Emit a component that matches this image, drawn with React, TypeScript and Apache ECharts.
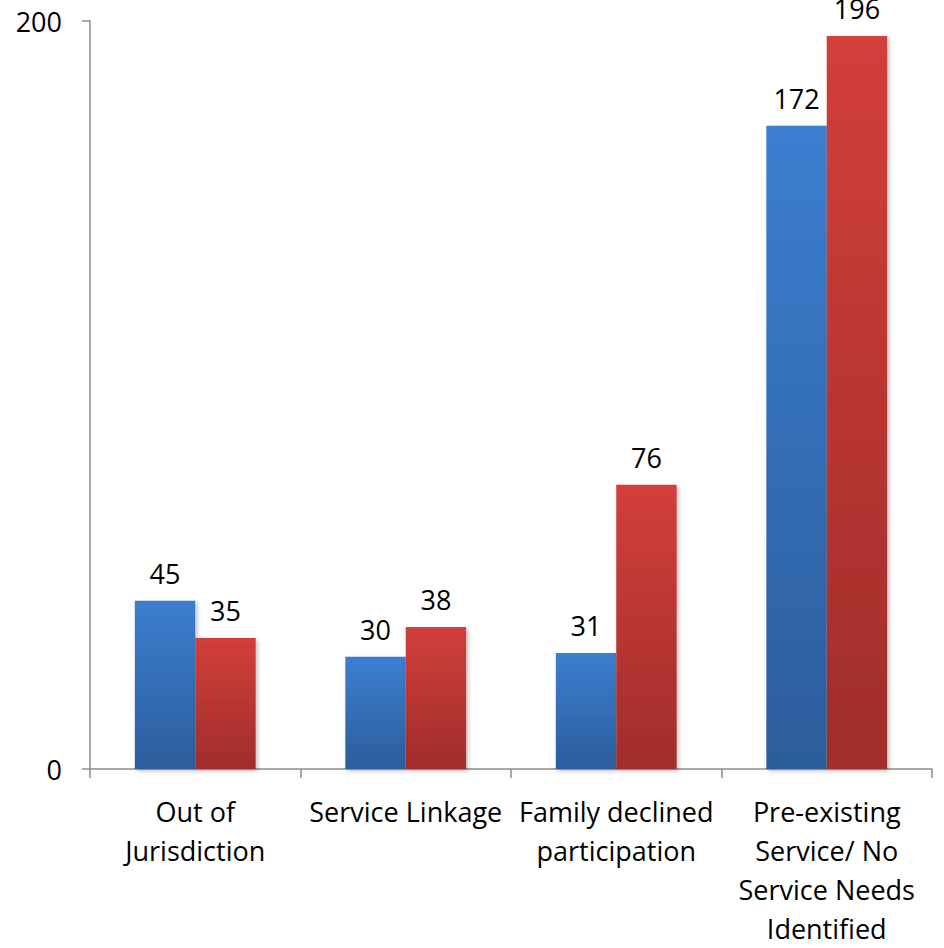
import React, { useEffect, useRef } from "react";
import * as echarts from "echarts";

const categories = [
  "Out of\nJurisdiction",
  "Service Linkage",
  "Family declined\nparticipation",
  "Pre-existing\nService/ No\nService Needs\nIdentified",
];
const seriesA = [45, 30, 31, 172];
const seriesB = [35, 38, 76, 196];
const yTicks = { min: 0, max: 200, interval: 200 };

const FONT = "'Open Sans', 'Noto Sans', sans-serif";

function grad(top: string, bottom: string) {
  return new echarts.graphic.LinearGradient(0, 0, 0, 1, [
    { offset: 0, color: top },
    { offset: 1, color: bottom },
  ]);
}

export default function App() {
  const ref = useRef<HTMLDivElement>(null);

  useEffect(() => {
    if (!ref.current) return;
    const chart = echarts.init(ref.current, null, { renderer: "svg" });
    const axisColor = "#8c8c8c";
    const labelStyle = {
      show: true,
      position: "top" as const,
      distance: 14,
      color: "#000",
      fontSize: 27,
      fontFamily: FONT,
    };
    const shadow = {
      shadowColor: "rgba(0,0,0,0.25)",
      shadowBlur: 4,
      shadowOffsetX: 2,
      shadowOffsetY: 2,
    };
    chart.setOption({
      animation: false,
      backgroundColor: "#fff",
      grid: { left: 90, right: 12, top: 21, bottom: 173, containLabel: false },
      xAxis: {
        type: "category",
        data: categories,
        axisLine: { show: true, lineStyle: { color: axisColor, width: 1.5 } },
        axisTick: { show: true, length: 9, lineStyle: { color: axisColor, width: 1.5 } },
        axisLabel: {
          interval: 0,
          margin: 23,
          color: "#000",
          fontSize: 27,
          lineHeight: 39,
          fontFamily: FONT,
        },
      },
      yAxis: {
        type: "value",
        min: yTicks.min,
        max: yTicks.max,
        interval: yTicks.interval,
        splitLine: { show: false },
        axisLine: { show: true, lineStyle: { color: axisColor, width: 1.5 } },
        axisTick: { show: true, length: 8, lineStyle: { color: axisColor, width: 1.5 } },
        axisLabel: {
          margin: 28,
          color: "#000",
          fontSize: 27,
          fontFamily: FONT,
        },
      },
      series: [
        {
          type: "bar",
          data: seriesA,
          barWidth: "28.7%",
          barGap: "0%",
          itemStyle: { color: grad("#3c7ed0", "#2c5d9c"), ...shadow },
          label: labelStyle,
        },
        {
          type: "bar",
          data: seriesB,
          barWidth: "28.7%",
          barGap: "0%",
          itemStyle: { color: grad("#d23f3b", "#a02d2b"), ...shadow },
          label: labelStyle,
        },
      ],
    });
    return () => chart.dispose();
  }, []);

  return (
    <div
      ref={ref}
      style={{ position: "fixed", left: 0, top: 0, width: 944, height: 948 }}
    />
  );
}
